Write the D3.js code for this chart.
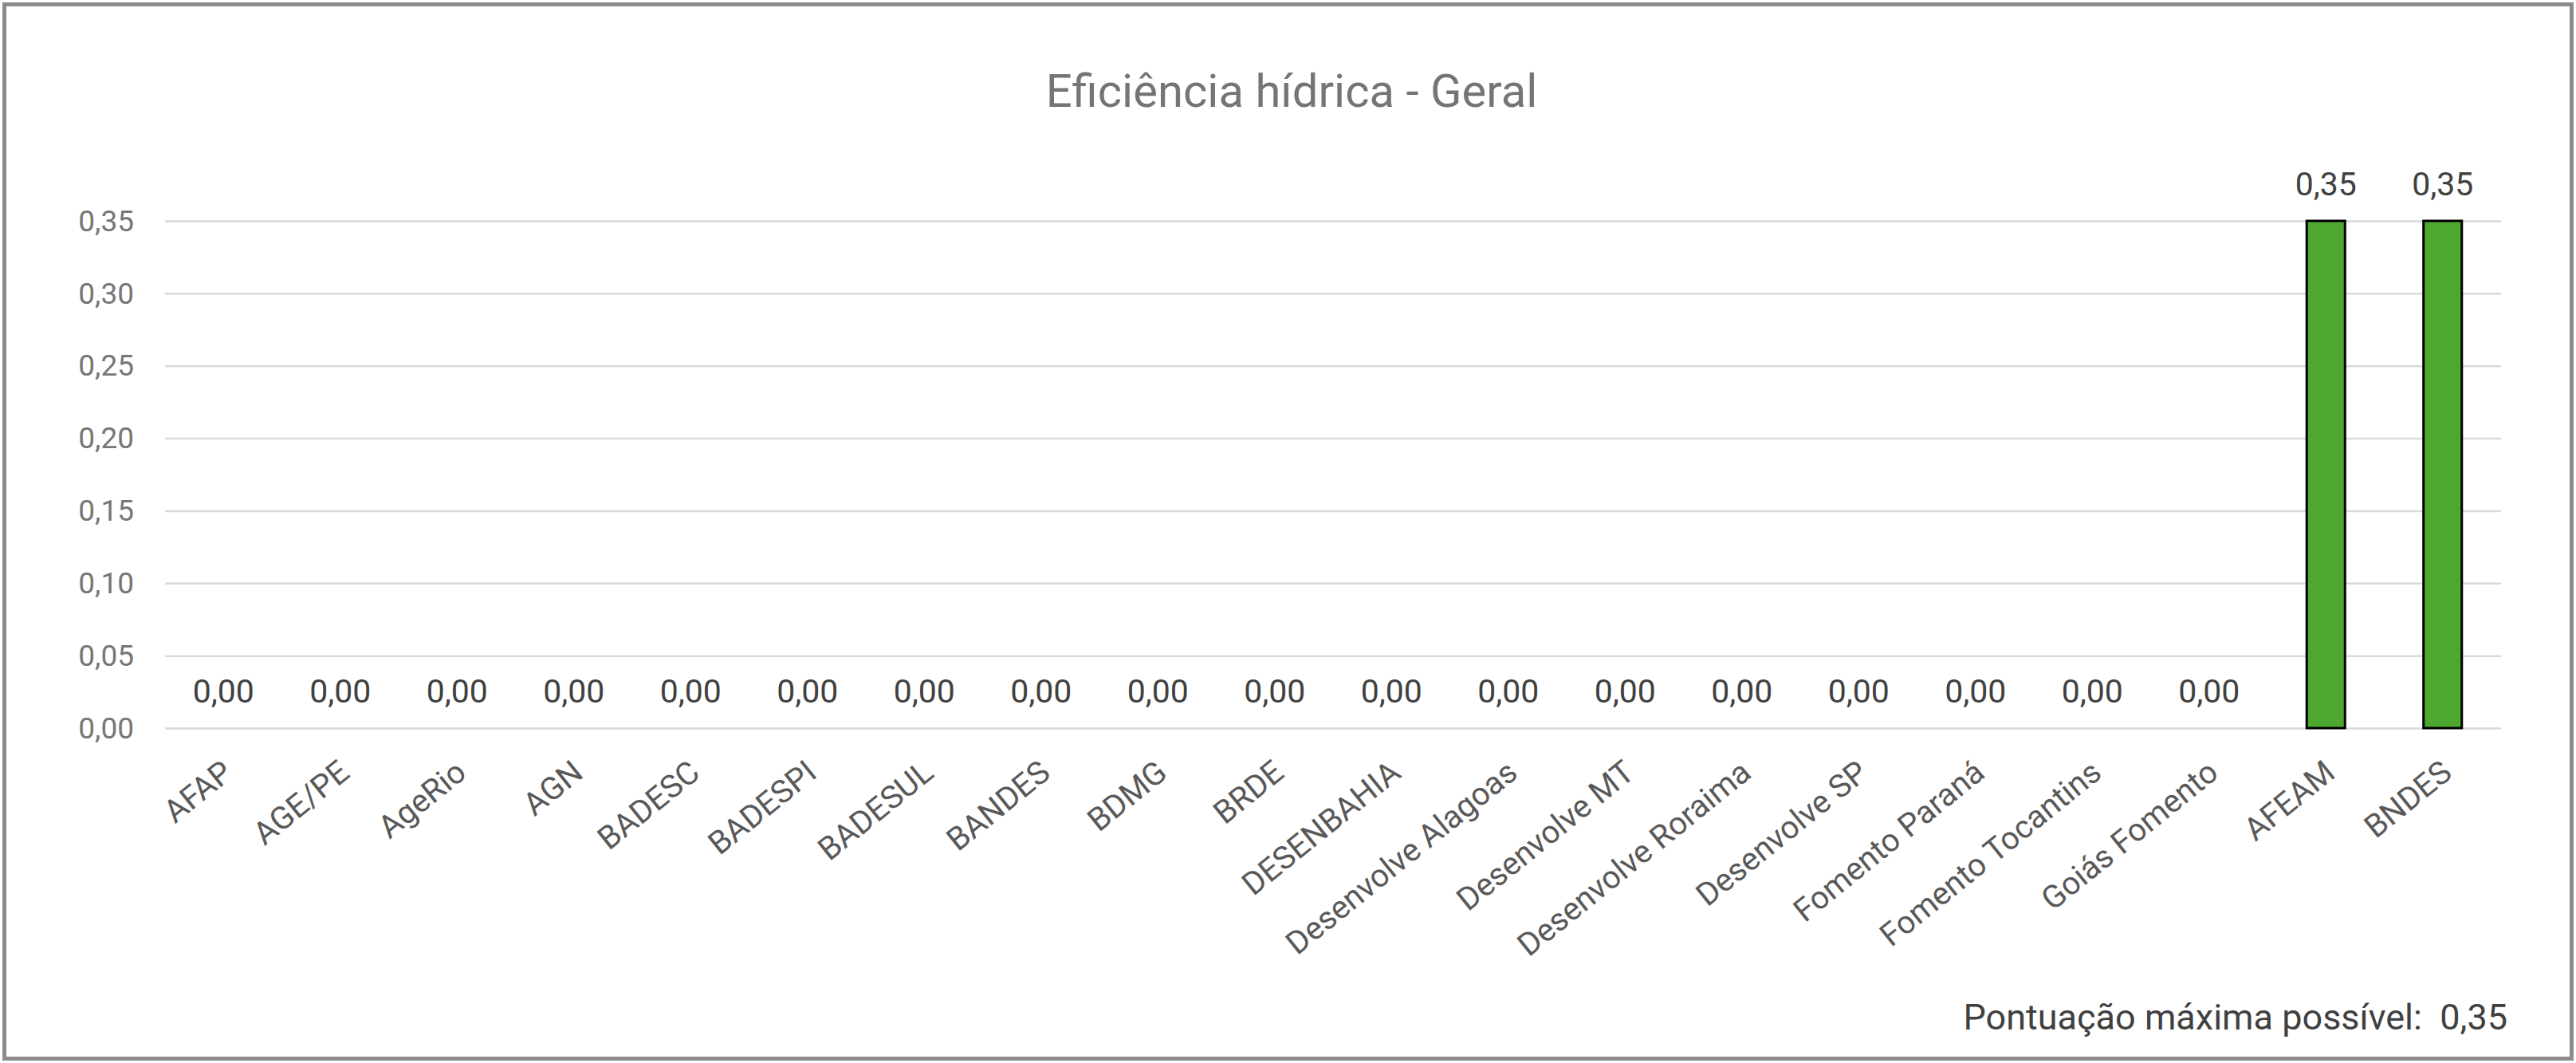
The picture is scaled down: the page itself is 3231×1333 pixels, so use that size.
<!DOCTYPE html>
<html>
<head>
<meta charset="utf-8">
<script src="https://cdn.jsdelivr.net/npm/d3@7"></script>
<style>
  html, body { margin: 0; padding: 0; background: #ffffff; }
  svg { display: block; }
  text { font-family: Roboto, "Open Sans", "DejaVu Sans", sans-serif; }
</style>
</head>
<body>
<svg id="chart" width="3231" height="1333"></svg>
<script>
// ---- data ----
const categories = ["AFAP", "AGE/PE", "AgeRio", "AGN", "BADESC", "BADESPI", "BADESUL", "BANDES", "BDMG", "BRDE",
  "DESENBAHIA", "Desenvolve Alagoas", "Desenvolve MT", "Desenvolve Roraima", "Desenvolve SP", "Fomento Paraná",
  "Fomento Tocantins", "Goiás Fomento", "AFEAM", "BNDES"];
const values = [0, 0, 0, 0, 0, 0, 0, 0, 0, 0, 0, 0, 0, 0, 0, 0, 0, 0, 0.35, 0.35];
const yTicks = [0, 0.05, 0.10, 0.15, 0.20, 0.25, 0.30, 0.35];
const titleText = "Eficiência hídrica - Geral";
const footerText = "Pontuação máxima possível:  0,35";

// ---- setup ----
const W = 3231, H = 1333;
const plot = { left: 207, right: 3137, top: 277, bottom: 913 };
const svg = d3.select("#chart");
const ptBR = d3.formatLocale({ decimal: ",", thousands: ".", grouping: [3], currency: ["R$", ""] });
const fmt = ptBR.format(".2f");

svg.append("rect").attr("x", 0).attr("y", 0).attr("width", W).attr("height", H).attr("fill", "#ffffff");

const x = d3.scaleBand().domain(categories).range([plot.left, plot.right])
  .paddingInner(0.672).paddingOuter(0.336);
const y = d3.scaleLinear().domain([0, 0.35]).range([plot.bottom, plot.top]);

// gridlines + y labels via axis
const yAxis = d3.axisLeft(y).tickValues(yTicks).tickFormat(fmt)
  .tickSize(-(plot.right - plot.left)).tickPadding(40);
const gy = svg.append("g").attr("transform", `translate(${plot.left},0)`).call(yAxis);
gy.select(".domain").remove();
gy.selectAll(".tick line").attr("stroke", "#d9d9d9").attr("stroke-width", 2.5);
gy.selectAll(".tick text").attr("fill", "#767676").attr("font-size", 37)
  .attr("dy", "0.33em").attr("x", -39);

// bars
svg.append("g").selectAll("rect").data(categories).join("rect")
  .attr("x", d => x(d))
  .attr("y", (d, i) => y(values[i]))
  .attr("width", x.bandwidth())
  .attr("height", (d, i) => y(0) - y(values[i]))
  .attr("fill", "#4ea72e")
  .attr("stroke", "#000000")
  .attr("stroke-width", (d, i) => values[i] > 0 ? 3 : 0);

// data labels
svg.append("g").selectAll("text").data(categories).join("text")
  .attr("x", d => x(d) + x.bandwidth() / 2)
  .attr("y", (d, i) => y(values[i]) - 32)
  .attr("text-anchor", "middle")
  .attr("font-size", 41)
  .attr("fill", "#404040")
  .text((d, i) => fmt(values[i]));

// x axis labels (rotated)
const xAxis = d3.axisBottom(x).tickSize(0).tickPadding(0);
const gx = svg.append("g").attr("transform", `translate(0,${plot.bottom})`).call(xAxis);
gx.select(".domain").remove();
gx.selectAll(".tick text")
  .attr("font-size", 40)
  .attr("fill", "#595959")
  .attr("text-anchor", "end")
  .attr("x", 0).attr("y", 0).attr("dy", 0)
  .attr("transform", "translate(14,60) rotate(-39)");

// title
svg.append("text")
  .attr("x", 1620).attr("y", 134)
  .attr("text-anchor", "middle")
  .attr("font-size", 58)
  .attr("fill", "#757575")
  .text(titleText);

// footer
svg.append("text")
  .attr("x", 3145).attr("y", 1291)
  .attr("text-anchor", "end")
  .attr("font-size", 45)
  .attr("fill", "#404040")
  .style("white-space", "pre")
  .attr("xml:space", "preserve")
  .text(footerText);

// frame
svg.append("rect")
  .attr("x", 5.5).attr("y", 5.5)
  .attr("width", W - 11).attr("height", H - 11)
  .attr("fill", "none")
  .attr("stroke", "#8c8c8c")
  .attr("stroke-width", 5);
</script>
</body>
</html>
